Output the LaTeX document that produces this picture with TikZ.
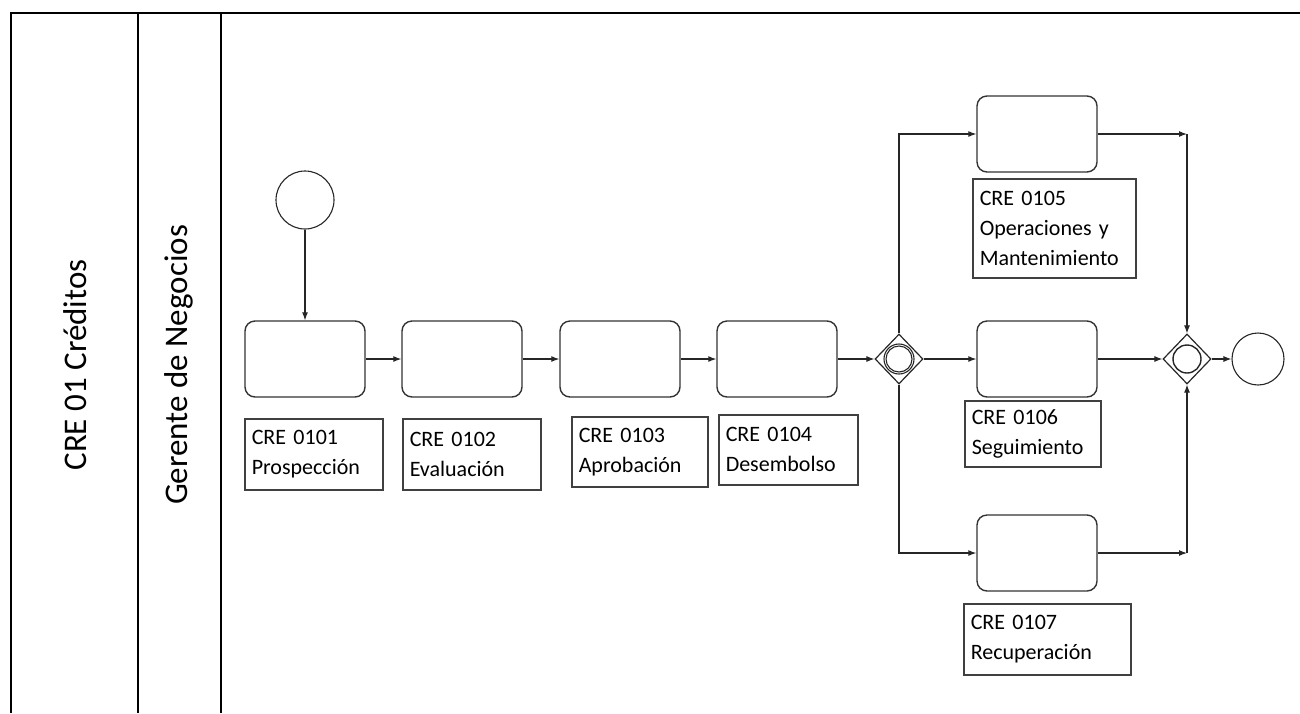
\documentclass[tikz,border=0pt]{standalone}
\usepackage{fontspec}
\setmainfont{Carlito}
\usetikzlibrary{arrows.meta,shapes.geometric}

\begin{document}
\begin{tikzpicture}[
        x=1pt, y=-1pt,
        >={Latex[length=8pt,width=6pt]},
        task/.style={draw=black!80, line width=1.4pt, rounded corners=10pt,
          minimum width=120pt, minimum height=76pt},
        tag/.style={draw=black!75, line width=1.5pt, anchor=north west,
          align=left, inner sep=7pt, font=\fontsize{22}{30}\selectfont},
        gate/.style={draw=black!85, diamond, line width=1.2pt,
          minimum width=48pt, minimum height=50pt, inner sep=0pt},
        ring/.style={draw=black!85, circle, line width=1.1pt, inner sep=0pt},
        event/.style={draw=black!85, circle, line width=1.1pt, inner sep=0pt},
        flow/.style={->, line width=1.1pt, black!85},
        lane/.style={rotate=90, font=\fontsize{33}{38}\selectfont}
      ]
        \useasboundingbox (0,0) rectangle (1300,713);

        % pool and lane
        \draw[line width=1.7pt] (11,713) -- (11,13) -- (1300,13);
        \draw[line width=1.7pt] (138,13) -- (138,713);
        \draw[line width=1.7pt] (221,13) -- (221,713);
        \node[lane] (pool) at (75,365) {CRE 01 Créditos};
        \node[lane] (gerente) at (179,365) {Gerente de Negocios};

        % events
        \node[event, minimum size=58pt] (start) at (305,200) {};
        \node[event, minimum size=52pt] (end) at (1258,359) {};

        % tasks
        \node[task] (t1) at (305,359) {};
        \node[task] (t2) at (462,359) {};
        \node[task] (t3) at (620,359) {};
        \node[task] (t4) at (777,359) {};
        \node[task] (t5) at (1037,134) {};
        \node[task] (t6) at (1037,359) {};
        \node[task] (t7) at (1037,553) {};

        % labels
        \node[tag, text width=124pt, minimum height=71pt] (l1) at (244,418) {CRE 0101\\Prospección};
        \node[tag, text width=124pt, minimum height=71pt] (l2) at (402,418) {CRE 0102\\Evaluación};
        \node[tag, text width=122pt, minimum height=70pt] (l3) at (571,416) {CRE 0103\\Aprobación};
        \node[tag, text width=125pt, minimum height=70pt] (l4) at (718,414) {CRE 0104\\Desembolso};
        \node[tag, text width=149pt, minimum height=99pt] (l5) at (972,178) {CRE 0105\\Operaciones y\\Mantenimiento};
        \node[tag, text width=122pt, minimum height=66pt] (l6) at (964,400) {CRE 0106\\Seguimiento};
        \node[tag, text width=153pt, minimum height=71pt] (l7) at (963,603) {CRE 0107\\Recuperación};

        % gateways
        \node[gate] (g1) at (899,359) {};
        \node[ring, minimum size=30pt] at (g1) {};
        \node[ring, minimum size=26pt] at (g1) {};
        \node[gate] (g2) at (1187,359) {};
        \node[ring, minimum size=28pt, line width=1.4pt] at (g2) {};

        \coordinate (c5) at (1187,134);
        \coordinate (c7) at (1187,553);

        % flows
        \draw[flow] (start) -- (t1);
        \draw[flow] (t1) -- (t2);
        \draw[flow] (t2) -- (t3);
        \draw[flow] (t3) -- (t4);
        \draw[flow] (t4) -- (g1);
        \draw[flow] (g1.north) |- (t5);
        \draw[flow] (g1) -- (t6);
        \draw[flow] (g1.south) |- (t7);
        \draw[flow] (t5) -- (c5);
        \draw[flow] (c5) -- (g2.north);
        \draw[flow] (t6) -- (g2);
        \draw[flow] (t7) -- (c7);
        \draw[flow] (c7) -- (g2.south);
        \draw[flow] (g2) -- (end);
      \end{tikzpicture}
\end{document}
